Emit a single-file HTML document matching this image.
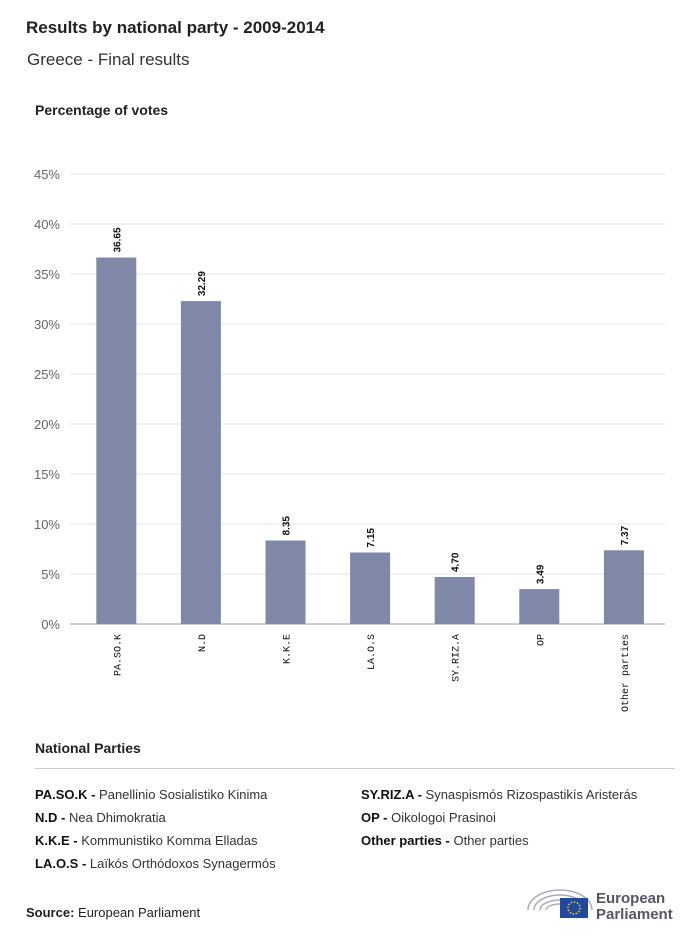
<!DOCTYPE html>
<html><head><meta charset="utf-8">
<style>
body{margin:0;background:#fff;font-family:"Liberation Sans",sans-serif;color:#222;}
#wrap{position:relative;width:700px;height:939px;overflow:hidden;}
.abs{position:absolute;white-space:nowrap;}
.leg{font-size:13px;color:#333;}
.leg b{color:#111;}
</style></head>
<body><div id="wrap">
<div class="abs" style="left:26px;top:18px;font-size:17px;font-weight:bold;">Results by national party - 2009-2014</div>
<div class="abs" style="left:27px;top:50px;font-size:17px;color:#333;">Greece - Final results</div>
<div class="abs" style="left:35px;top:102px;font-size:14px;font-weight:bold;">Percentage of votes</div>
<svg class="abs" style="left:0;top:0" width="700" height="740" id="chart"></svg>
<div class="abs" style="left:35px;top:740px;font-size:14px;font-weight:bold;">National Parties</div>
<div class="abs" style="left:35px;top:768px;width:640px;height:1px;background:#ccc;"></div>
<div class="abs leg" style="left:35px;top:787px;"><b>PA.SO.K - </b>Panellinio Sosialistiko Kinima</div>
<div class="abs leg" style="left:35px;top:810px;"><b>N.D - </b>Nea Dhimokratia</div>
<div class="abs leg" style="left:35px;top:833px;"><b>K.K.E - </b>Kommunistiko Komma Elladas</div>
<div class="abs leg" style="left:35px;top:856px;"><b>LA.O.S - </b>Laïkós Orthódoxos Synagermós</div>
<div class="abs leg" style="left:361px;top:787px;"><b>SY.RIZ.A - </b>Synaspismós Rizospastikís Aristerás</div>
<div class="abs leg" style="left:361px;top:810px;"><b>OP - </b>Oikologoi Prasinoi</div>
<div class="abs leg" style="left:361px;top:833px;"><b>Other parties - </b>Other parties</div>
<div class="abs" style="left:26px;top:905px;font-size:13px;"><b>Source:</b> European Parliament</div>
<svg class="abs" style="left:524px;top:880px" width="160" height="44">
<g fill="none" stroke="#aab" stroke-width="1.5"><path d="M4 30 A32 20 0 0 1 68 30"/><path d="M10 30 A26 15 0 0 1 62 30"/><path d="M16 30 A20 10 0 0 1 56 30"/><path d="M22 30 A14 6 0 0 1 50 30"/></g>
<rect x="36" y="18" width="28" height="20" fill="#1f4aa0"/>
<circle cx="50" cy="28" r="6" fill="none" stroke="#fc0" stroke-width="1.5" stroke-dasharray="1.5 1.6"/>
<text x="72" y="23" font-size="15" font-weight="bold" fill="#556" font-family="Liberation Sans,sans-serif">European</text>
<text x="72" y="39" font-size="15" font-weight="bold" fill="#556" font-family="Liberation Sans,sans-serif">Parliament</text>
</svg>
</div>
<script>
const categories=["PA.SO.K","N.D","K.K.E","LA.O.S","SY.RIZ.A","OP","Other parties"];
const values=[36.65,32.29,8.35,7.15,4.70,3.49,7.37];
const valueLabels=["36.65","32.29","8.35","7.15","4.70","3.49","7.37"];
const yTicks=[0,5,10,15,20,25,30,35,40,45];
const svg=document.getElementById('chart');
const NS='http://www.w3.org/2000/svg';
const y=v=>624-v*10;
const x0=74,step=84.6;
const xc=i=>x0+step*(i+0.5);
function el(t,a){const e=document.createElementNS(NS,t);for(const k in a)e.setAttribute(k,a[k]);svg.appendChild(e);return e;}
yTicks.forEach(t=>{
 const l=el('line',{x1:70,x2:665,y1:y(t),y2:y(t),stroke:t===0?'#ccd':'#e6e6e6','stroke-width':t===0?2:1});
 
 
 const tx=el('text',{x:60,y:y(t)+5,'text-anchor':'end','font-size':13,fill:'#666','font-family':'Liberation Sans,sans-serif'});
 tx.textContent=t+'%';
 
 
});
categories.forEach((c,i)=>{
 const cx=xc(i);
 const b=el('rect',{x:cx-20,y:y(values[i]),width:40,height:values[i]*10,fill:'#7f88a6'});
 
 
 const v=el('text',{transform:`translate(${cx+4},${y(values[i])-5}) rotate(-90)`,'font-size':10,'font-weight':'bold',fill:'#111','font-family':'Liberation Sans,sans-serif'});
 v.textContent=valueLabels[i];
 
 
 const t=el('text',{transform:`translate(${cx+4},634) rotate(-90)`,'text-anchor':'end','font-size':10,fill:'#111','font-family':'Liberation Mono,monospace'});
 t.textContent=c;
 
 
});
</script>
</body></html>
